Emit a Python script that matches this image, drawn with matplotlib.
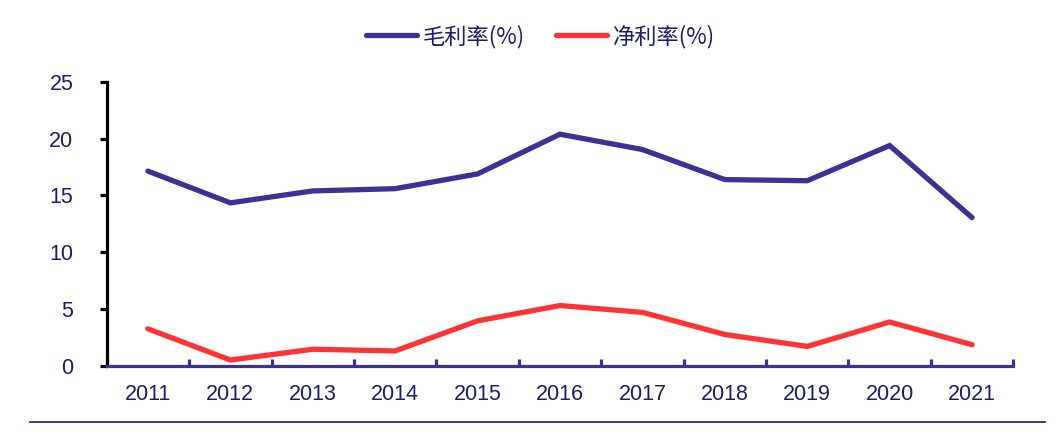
import matplotlib
matplotlib.use("Agg")
import matplotlib.pyplot as plt
from matplotlib.lines import Line2D
import numpy as np

plt.rcParams["font.family"] = ["Liberation Sans", "Noto Sans CJK SC", "DejaVu Sans"]

years = ["2011", "2012", "2013", "2014", "2015", "2016", "2017", "2018", "2019", "2020", "2021"]
grossMargin = [17.15, 14.35, 15.4, 15.6, 16.9, 20.4, 19.05, 16.4, 16.3, 19.4, 13.05]
netMargin = [3.25, 0.5, 1.45, 1.3, 3.95, 5.3, 4.7, 2.75, 1.7, 3.85, 1.85]
seriesNames = ["毛利率(%)", "净利率(%)"]
yTicks = [0, 5, 10, 15, 20, 25]

NAVY = "#3c3293"
RED = "#ff3333"
TEXT = "#1c1c6b"

fig = plt.figure(figsize=(10.64, 4.43), dpi=100)
ax = fig.add_axes([0.1003, 0.1745, 0.8520, 0.6404])

x = np.arange(len(years))
ax.plot(x, grossMargin, color=NAVY, linewidth=3.8, solid_capstyle="round", solid_joinstyle="miter")
ax.plot(x, netMargin, color=RED, linewidth=3.8, solid_capstyle="round", solid_joinstyle="miter")

ax.set_xlim(-0.5, len(years) - 0.5)
ax.set_ylim(0, 25)

for side in ["top", "right"]:
    ax.spines[side].set_visible(False)
ax.spines["left"].set_color("black")
ax.spines["left"].set_linewidth(2.3)
ax.spines["bottom"].set_color(NAVY)
ax.spines["bottom"].set_linewidth(2.3)

ax.set_yticks(yTicks)
ax.tick_params(axis="y", direction="out", length=5, width=2.3, color="black",
               labelsize=15.5, labelcolor=TEXT, pad=19)

ax.set_xticks(x)
ax.set_xticklabels(years)
ax.set_xticks(np.arange(-0.5, len(years), 1.0), minor=True)
ax.tick_params(axis="x", which="major", length=0, labelsize=15.5, labelcolor=TEXT, pad=13)
ax.tick_params(axis="x", which="minor", direction="in", length=5, width=2.3, color=NAVY)

handles = [Line2D([], [], color=NAVY, linewidth=3.8, solid_capstyle="round"),
           Line2D([], [], color=RED, linewidth=3.8, solid_capstyle="round")]
leg = fig.legend(handles, seriesNames, loc="center", bbox_to_anchor=(0.508, 0.918), ncol=2,
                 frameon=False, handlelength=2.3, handletextpad=0.25, columnspacing=1.4,
                 prop={"family": ["Noto Sans CJK SC", "DejaVu Sans"], "size": 16})
for t in leg.get_texts():
    t.set_color(TEXT)

# bottom separator line
fig.add_artist(Line2D([0.028, 0.982], [1 - 421.7 / 443, 1 - 421.7 / 443],
                      transform=fig.transFigure, color="#1a1566", linewidth=1.2))

fig.savefig("out.png", dpi=100)
